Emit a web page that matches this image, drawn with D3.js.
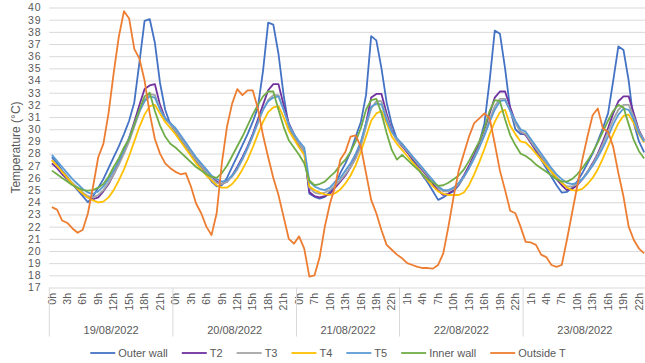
<!DOCTYPE html>
<html>
<head>
<meta charset="utf-8">
<script src="https://cdn.jsdelivr.net/npm/d3@7"></script>
<style>
  body { margin: 0; background: #fff; }
  svg { display: block; font-family: "Liberation Sans", Arial, sans-serif; }
</style>
</head>
<body>
<div id="chart"></div>
<script>
// Dates and the hours logged on each of them (21/08 has a gap)
const days = ["19/08/2022", "20/08/2022", "21/08/2022", "22/08/2022", "23/08/2022"];
const fullDay = [0, 1, 2, 3, 4, 5, 6, 7, 8, 9, 10, 11, 12, 13, 14, 15, 16, 17, 18, 19, 20, 21, 22, 23];
const gapDay = [0, 1, 6, 7, 8, 9, 10, 11, 12, 13, 14, 15, 16, 17, 18, 19, 20, 21, 22, 23];
const dayHours = [fullDay, fullDay, gapDay, fullDay, fullDay];

const yTicks = [17, 18, 19, 20, 21, 22, 23, 24, 25, 26, 27, 28, 29, 30, 31, 32, 33, 34, 35, 36, 37, 38, 39, 40];

// Series values, one per logged hour
const outerWall = [
  27.7, 27.2, 26.6, 26.1, 25.5, 25.0, 24.5, 24.0, 24.5, 25.2, 25.9, 26.8, 27.7, 28.6, 29.6, 30.7, 32.2, 35.5, 38.9, 39.05, 37.1, 33.8, 31.6, 30.4,
  29.8, 29.2, 28.6, 28.0, 27.4, 26.9, 26.3, 25.7, 25.3, 25.4, 26.0, 26.9, 27.8, 28.7, 29.6, 30.6, 31.8, 34.8, 38.75, 38.6, 36.2, 32.8, 30.2, 29.3,
  28.7, 28.2, 24.7, 24.45, 24.3, 24.45, 24.85, 25.4, 26.4, 27.2, 28.15, 29.4, 30.6, 32.8, 37.65, 37.3, 35.0, 32.2, 30.4, 29.2,
  28.8, 28.2, 27.5, 26.9, 26.2, 25.6, 24.9, 24.2, 24.4, 24.7, 24.9, 25.4, 26.1, 26.9, 27.9, 28.9, 30.5, 34.0, 38.1, 37.85, 35.0, 31.6, 30.0, 29.6,
  29.6, 28.9, 28.2, 27.5, 26.8, 26.1, 25.4, 24.8, 24.85, 25.2, 25.7, 26.4, 27.2, 28.0, 29.0, 30.1, 31.3, 34.0, 36.8, 36.5, 34.0, 30.5, 29.0, 28.1
];
const t2 = [
  27.2, 26.8, 26.3, 25.9, 25.5, 25.1, 24.7, 24.4, 24.25, 24.4, 24.9, 25.5, 26.3, 27.2, 28.2, 29.3, 30.6, 32.0, 33.3, 33.6, 33.7, 32.0, 30.9, 30.5,
  30.0, 29.4, 28.8, 28.2, 27.6, 27.1, 26.6, 26.1, 25.7, 25.5, 25.7, 26.2, 26.9, 27.7, 28.6, 29.6, 30.8, 32.0, 33.2, 33.7, 33.7, 32.0, 30.5, 29.6,
  28.8, 28.2, 24.85, 24.5, 24.4, 24.5, 24.7, 25.2, 25.7, 26.2, 26.9, 27.7, 28.8, 30.5, 32.6, 32.9, 32.9, 31.3, 29.9, 29.1,
  28.6, 28.1, 27.6, 27.1, 26.6, 26.1, 25.5, 25.0, 24.6, 24.7, 25.0, 25.5, 26.2, 27.0, 27.9, 28.9, 30.0, 31.3, 32.6, 33.1, 33.1, 31.8, 30.6, 29.8,
  29.5, 28.9, 28.3, 27.7, 27.1, 26.5, 25.9, 25.4, 25.0, 25.1, 25.4, 25.9, 26.5, 27.2, 28.0, 29.0, 30.1, 31.3, 32.3, 32.7, 32.7, 31.3, 29.9, 29.1
];
const t3 = [
  27.5, 27.0, 26.5, 26.0, 25.6, 25.2, 24.8, 24.5, 24.4, 24.6, 25.0, 25.6, 26.3, 27.1, 28.0, 29.0, 30.2, 31.4, 32.4, 32.9, 32.8, 31.7, 30.8, 30.4,
  29.9, 29.3, 28.7, 28.1, 27.5, 27.0, 26.5, 26.0, 25.6, 25.5, 25.7, 26.1, 26.7, 27.5, 28.4, 29.4, 30.5, 31.6, 32.4, 32.8, 32.8, 31.6, 30.3, 29.5,
  28.8, 28.2, 25.2, 24.8, 24.7, 24.8, 25.0, 25.4, 25.8, 26.3, 26.9, 27.6, 28.6, 30.2, 31.7, 32.3, 32.3, 31.0, 29.8, 29.1,
  28.7, 28.2, 27.7, 27.2, 26.7, 26.2, 25.7, 25.2, 24.9, 24.9, 25.1, 25.5, 26.1, 26.8, 27.7, 28.6, 29.6, 30.8, 31.9, 32.5, 32.5, 31.5, 30.5, 29.8,
  29.6, 29.0, 28.4, 27.8, 27.2, 26.6, 26.1, 25.6, 25.3, 25.3, 25.5, 25.9, 26.5, 27.1, 27.9, 28.8, 29.8, 30.8, 31.6, 32.0, 32.0, 31.0, 29.8, 29.1
];
const t4 = [
  27.45, 27.0, 26.5, 26.0, 25.5, 25.1, 24.7, 24.4, 24.15, 24.0, 24.05, 24.4, 25.0, 25.8, 26.7, 27.8, 29.0, 30.2, 31.2, 31.9, 32.0, 31.3, 30.6, 30.1,
  29.6, 29.0, 28.4, 27.8, 27.2, 26.7, 26.2, 25.8, 25.4, 25.2, 25.2, 25.5, 26.0, 26.7, 27.5, 28.5, 29.6, 30.6, 31.4, 31.8, 31.9, 31.0, 29.9, 29.2,
  28.5, 27.9, 25.3, 25.0, 24.8, 24.65, 24.6, 24.75, 25.05, 25.55, 26.2, 27.05, 28.15, 29.4, 30.7, 31.3, 31.5, 30.5, 29.4, 28.8,
  28.3, 27.8, 27.3, 26.8, 26.3, 25.8, 25.3, 24.9, 24.7, 24.6, 24.6, 24.6, 24.8, 25.4, 26.3, 27.3, 28.4, 29.6, 30.6, 31.4, 31.6, 30.3, 29.6, 29.0,
  28.9, 28.5, 28.0, 27.5, 27.0, 26.5, 26.0, 25.6, 25.2, 25.0, 24.95, 25.1, 25.5, 26.0, 26.7, 27.6, 28.6, 29.6, 30.5, 31.1, 31.2, 30.5, 29.6, 28.9
];
const t5 = [
  27.9, 27.4, 26.9, 26.4, 25.9, 25.5, 25.1, 24.8, 24.7, 24.9, 25.3, 25.9, 26.6, 27.4, 28.3, 29.3, 30.4, 31.5, 32.3, 32.7, 32.6, 31.6, 30.9, 30.5,
  30.1, 29.5, 28.9, 28.3, 27.7, 27.2, 26.7, 26.2, 25.9, 25.7, 25.8, 26.2, 26.8, 27.6, 28.5, 29.5, 30.6, 31.6, 32.3, 32.6, 32.7, 31.6, 30.4, 29.6,
  29.0, 28.5, 25.7, 25.3, 25.1, 25.0, 25.2, 25.7, 26.0, 26.6, 27.2, 28.0, 29.0, 30.5, 31.85, 32.1, 32.05, 30.75, 29.8, 29.25,
  28.8, 28.3, 27.8, 27.3, 26.8, 26.3, 25.8, 25.3, 25.0, 25.0, 25.2, 25.6, 26.1, 26.8, 27.6, 28.5, 29.5, 30.6, 31.6, 32.3, 32.4, 31.5, 30.7, 30.0,
  29.8, 29.2, 28.6, 28.0, 27.4, 26.8, 26.3, 25.9, 25.6, 25.5, 25.6, 25.9, 26.4, 27.0, 27.7, 28.5, 29.4, 30.4, 31.2, 31.7, 31.6, 30.8, 29.7, 29.0
];
const innerWall = [
  26.6, 26.3, 26.0, 25.7, 25.4, 25.2, 25.0, 24.95, 25.0, 25.2, 25.5, 26.1, 26.9, 27.6, 28.5, 29.2, 30.4, 31.6, 32.7, 33.0, 31.5, 30.3, 29.4, 28.8,
  28.5, 28.1, 27.7, 27.3, 26.9, 26.6, 26.3, 26.1, 26.0, 26.4, 27.0, 27.8, 28.6, 29.4, 30.3, 31.2, 32.0, 32.7, 33.1, 33.1, 31.6, 30.2, 29.1, 28.5,
  27.9, 27.2, 25.8, 25.4, 25.5, 25.7, 26.1, 26.5, 27.05, 27.5, 28.15, 29.0, 30.1, 31.6, 32.4, 32.5, 31.3, 29.7, 28.3, 27.5,
  27.9, 27.5, 27.1, 26.7, 26.3, 25.9, 25.6, 25.35, 25.4, 25.6, 25.9, 26.2, 26.7, 27.4, 28.2, 29.0, 30.1, 31.5, 32.4, 32.3, 30.8, 29.5, 28.7, 28.0,
  27.8, 27.5, 27.1, 26.8, 26.5, 26.2, 25.9, 25.7, 25.7, 25.9, 26.3, 26.8, 27.4, 28.1, 28.9, 29.8, 30.7, 31.5, 32.0, 31.8, 30.4, 29.1, 28.2, 27.6
];
const outsideT = [
  23.6, 23.4, 22.5, 22.3, 21.85, 21.5, 21.75, 23.1, 25.3, 27.7, 28.8, 31.3, 34.6, 37.6, 39.7, 39.1, 36.6, 35.8, 34.0, 31.3, 29.2, 28.0, 27.2, 26.8,
  26.5, 26.3, 26.4, 25.3, 23.9, 23.1, 22.0, 21.3, 23.1, 27.2, 30.2, 32.1, 33.3, 32.8, 33.2, 33.2, 31.7, 29.5, 27.7, 26.0, 24.6, 22.8, 21.0, 20.6,
  21.2, 20.2, 17.9, 18.0, 19.5, 22.0, 23.9, 25.3, 27.5, 28.15, 29.4, 29.5, 28.55, 26.4, 24.2, 23.1, 21.7, 20.5, 20.1, 19.7,
  19.4, 19.0, 18.85, 18.7, 18.6, 18.6, 18.55, 18.85, 19.8, 22.0, 24.45, 26.6, 28.0, 29.4, 30.5, 30.9, 31.3, 30.9, 28.8, 26.6, 25.0, 23.3, 23.1, 22.0,
  20.75, 20.7, 20.5, 19.7, 19.5, 18.85, 18.7, 18.85, 20.9, 23.1, 25.3, 27.5, 29.4, 31.15, 31.7, 30.05, 29.8, 28.55, 26.4, 24.45, 22.0, 20.9, 20.2, 19.8
];

const seriesNames = ["Outer wall", "T2", "T3", "T4", "T5", "Inner wall", "Outside T"];
const seriesValues = [outerWall, t2, t3, t4, t5, innerWall, outsideT];
const seriesColors = ["#4472C4", "#7030A0", "#A5A5A5", "#FFC000", "#5B9BD5", "#70AD47", "#ED7D31"];

function renderChart() {
  const width = 645;
  const height = 363;
  const margin = { top: 7.5, right: -1.7, bottom: 75.5, left: 49.3 };
  const innerWidth = width - margin.left - margin.right;
  const innerHeight = height - margin.top - margin.bottom;
  const textColor = "#595959";
  const gridColor = "#D9D9D9";

  // one category per logged hour
  const categories = [];
  dayHours.forEach((hours, d) => hours.forEach(h => categories.push({ day: d, hour: h })));

  const svg = d3.select("#chart").append("svg")
    .attr("width", width)
    .attr("height", height);

  const g = svg.append("g")
    .attr("transform", `translate(${margin.left},${margin.top})`);

  const xScale = d3.scaleBand()
    .domain(d3.range(categories.length))
    .range([0, innerWidth])
    .padding(0);
  const bw = xScale.bandwidth();
  const xMid = i => xScale(i) + bw / 2;

  const yScale = d3.scaleLinear().domain([17, 40]).range([innerHeight, 0]);

  // Horizontal gridlines and y labels
  const yAxis = g.append("g")
    .call(d3.axisLeft(yScale).tickValues(yTicks).tickSize(-innerWidth).tickPadding(8).tickFormat(d3.format("d")));
  yAxis.select(".domain").remove();
  yAxis.selectAll("line").attr("stroke", gridColor).attr("stroke-width", 1);
  yAxis.selectAll("text")
    .attr("fill", textColor)
    .style("font-size", "10.5px")
    .style("letter-spacing", "0.8px");

  // Hour labels, every third category
  const labelIdx = d3.range(0, categories.length, 3);
  const xAxis = g.append("g")
    .attr("transform", `translate(0,${innerHeight})`)
    .call(d3.axisBottom(xScale).tickValues(labelIdx).tickSize(0)
      .tickFormat(i => categories[i].hour + "h"));
  xAxis.select(".domain").remove();
  xAxis.selectAll("text")
    .attr("transform", "rotate(-90)")
    .attr("x", -5.5)
    .attr("y", 0)
    .attr("dy", "0.35em")
    .attr("fill", textColor)
    .style("text-anchor", "end")
    .style("font-size", "10.5px");

  // Day separators and date labels
  const dayStart = days.map((d, k) => categories.findIndex(c => c.day === k));
  const bounds = dayStart.map(i => xScale(i)).concat([xScale(categories.length - 1) + bw]);
  g.selectAll(".sep")
    .data(bounds)
    .join("line")
    .attr("x1", d => d).attr("x2", d => d)
    .attr("y1", innerHeight).attr("y2", innerHeight + 49)
    .attr("stroke", gridColor);

  g.selectAll(".date")
    .data(days)
    .join("text")
    .attr("x", (d, k) => (bounds[k] + bounds[k + 1]) / 2)
    .attr("y", innerHeight + 46)
    .attr("text-anchor", "middle")
    .attr("fill", textColor)
    .style("font-size", "11px")
    .text(d => d);

  // Series lines
  const line = d3.line()
    .x((d, i) => xMid(i))
    .y(d => yScale(d));

  seriesValues.forEach((vals, s) => {
    g.append("path")
      .datum(vals)
      .attr("fill", "none")
      .attr("stroke", seriesColors[s])
      .attr("stroke-width", 1.8)
      .attr("stroke-linejoin", "round")
      .attr("d", line);
  });

  // Y title
  svg.append("text")
    .attr("transform", `translate(20,${margin.top + innerHeight / 2}) rotate(-90)`)
    .attr("text-anchor", "middle")
    .attr("fill", textColor)
    .style("font-size", "12px")
    .text("Temperature (°C)");

  // Legend
  const legend = svg.append("g").attr("transform", "translate(0,353)");
  const items = legend.selectAll("g")
    .data(seriesNames)
    .join("g");
  items.append("line")
    .attr("x1", 0).attr("x2", 25)
    .attr("stroke", (d, i) => seriesColors[i])
    .attr("stroke-width", 1.8);
  items.append("text")
    .attr("x", 28)
    .attr("dy", "0.35em")
    .attr("fill", textColor)
    .style("font-size", "11px")
    .text(d => d);

  let pos = 0;
  const offsets = [];
  items.each(function () {
    offsets.push(pos);
    pos += 28 + this.querySelector("text").getComputedTextLength() + 14;
  });
  const total = pos - 14;
  const startX = 328 - total / 2;
  items.attr("transform", (d, i) => `translate(${startX + offsets[i]},0)`);

  return svg.node();
}

renderChart();
</script>
</body>
</html>
